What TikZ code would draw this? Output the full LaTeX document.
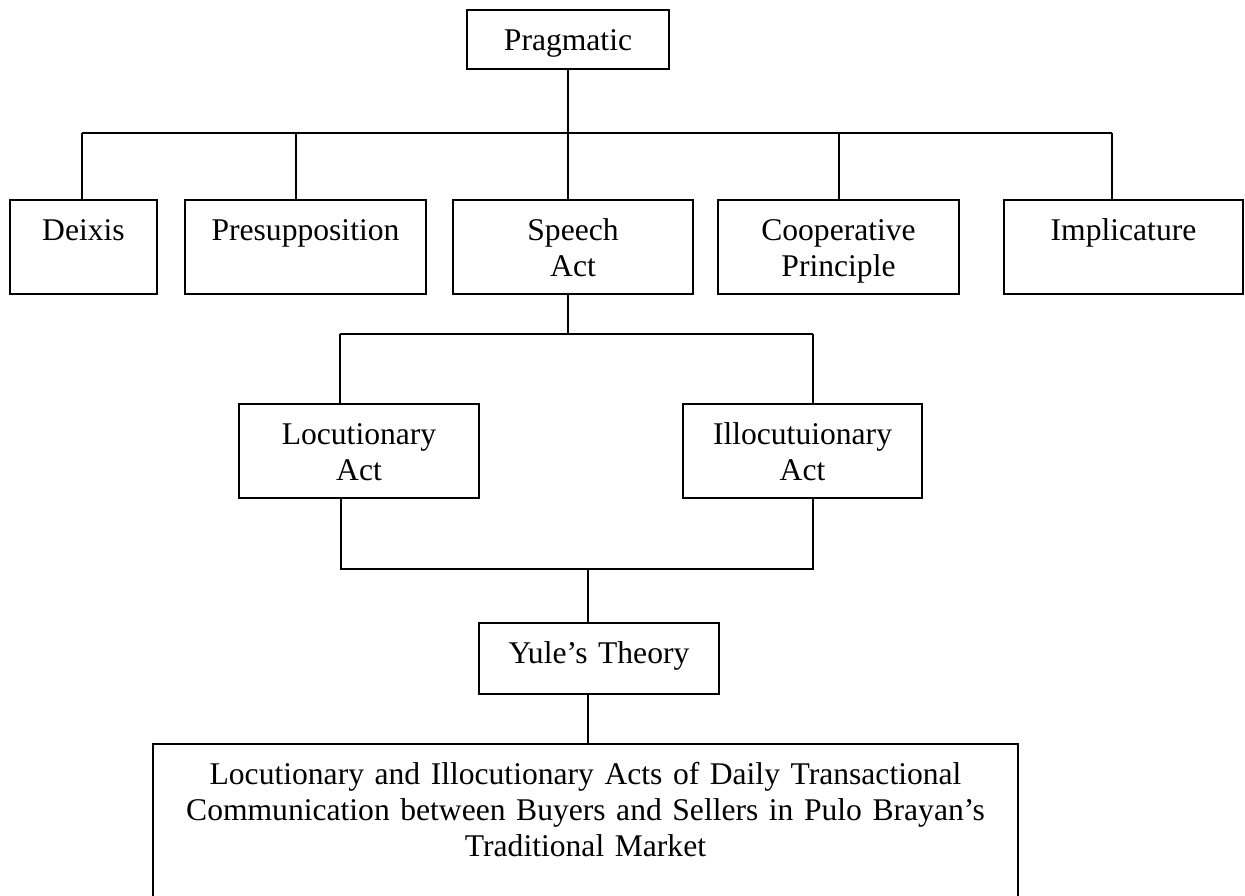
\documentclass[tikz,border=0pt]{standalone}
\usepackage{fontspec}
\setmainfont{Liberation Serif}

\begin{document}
\begin{tikzpicture}[x=0.5pt, y=-0.5pt, line width=1pt,
  box/.style={draw, line width=1pt, inner sep=0pt, align=center, anchor=north west,
    text height=20pt, font=\fontsize{15.8pt}{18.2pt}\selectfont}]
\clip (0,0) rectangle (1245,895);
\fill[white] (0,0) rectangle (1245,895);
\node[box, text width=101pt, text depth=9.5pt] (prag) at (466,9) {Pragmatic};
\node[box, text width=73.5pt, text depth=27pt] (deixis) at (9,199) {Deixis};
\node[box, text width=120.5pt, text depth=27pt] (pres) at (184,199) {Presupposition};
\node[box, text width=120pt, text depth=27pt] (speech) at (452,199) {Speech\\Act};
\node[box, text width=120.5pt, text depth=27pt] (coop) at (717,199) {Cooperative\\Principle};
\node[box, text width=119.5pt, text depth=27pt] (impl) at (1003,199) {Implicature};
\node[box, text width=120pt, text depth=27pt] (loc) at (238,403) {Locutionary\\Act};
\node[box, text width=119.5pt, text depth=27pt] (ill) at (682,403) {Illocutuionary\\Act};
\node[box, text width=120pt, text depth=15.5pt] (yule) at (478,622) {Yule’s Theory};
\node[box, text width=432.5pt, text depth=63.5pt] (goal) at (152,743)
  {Locutionary and Illocutionary Acts of Daily Transactional\\
   Communication between Buyers and Sellers in Pulo Brayan’s\\
   Traditional Market};
% first level
\coordinate (t1) at (82,133);
\coordinate (t2) at (296,133);
\coordinate (t3) at (568,133);
\coordinate (t4) at (839,133);
\coordinate (t5) at (1112,133);
\draw (prag.south) -- (t3);
\draw (t1) -- (t5);
\draw (t1) -- (t1 |- deixis.north);
\draw (t2) -- (t2 |- pres.north);
\draw (t3) -- (t3 |- speech.north);
\draw (t4) -- (t4 |- coop.north);
\draw (t5) -- (t5 |- impl.north);
% speech act
\coordinate (m0) at (568,334);
\coordinate (m1) at (340,334);
\coordinate (m2) at (813,334);
\draw (m0 |- speech.south) -- (m0);
\draw (m1) -- (m2);
\draw (m1) -- (m1 |- loc.north);
\draw (m2) -- (m2 |- ill.north);
% towards Yule
\coordinate (l0) at (588,569);
\coordinate (l1) at (341,569);
\coordinate (l2) at (813,569);
\draw (l1 |- loc.south) -- (l1) -- (l2) -- (l2 |- ill.south);
\draw (l0) -- (l0 |- yule.north);
\draw (l0 |- yule.south) -- (l0 |- goal.north);
\end{tikzpicture}
\end{document}
